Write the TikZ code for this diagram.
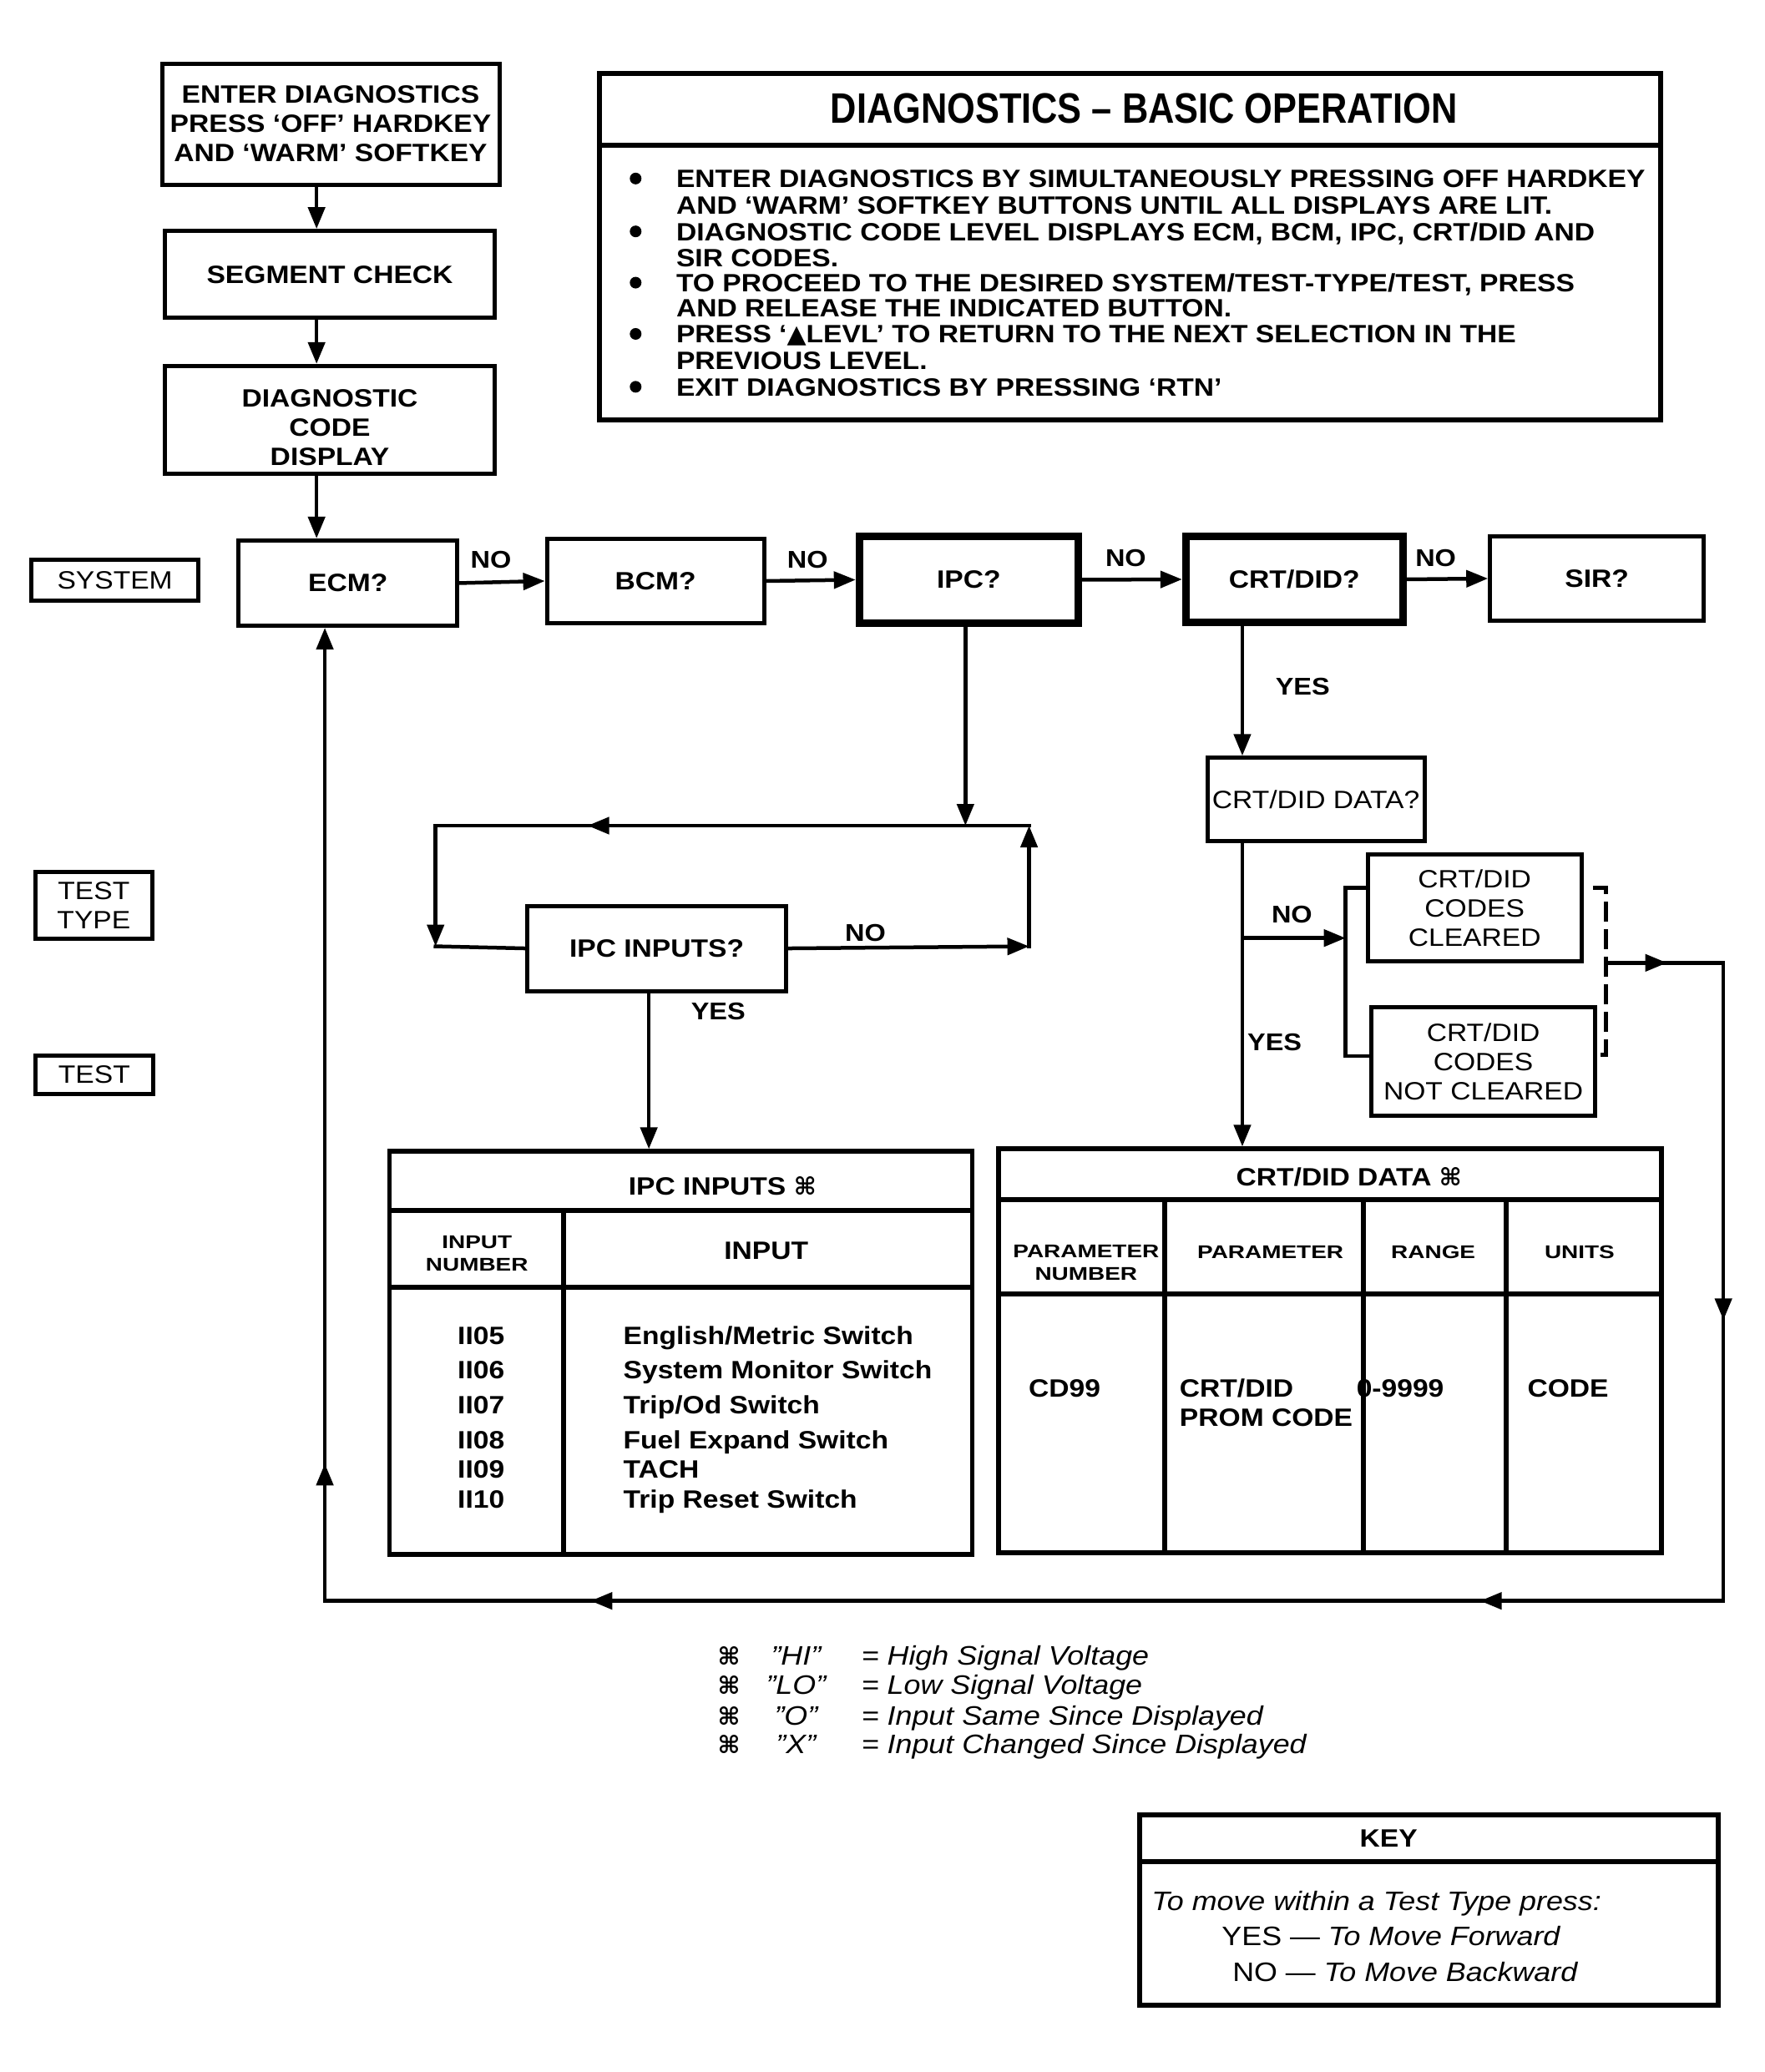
\documentclass[tikz,border=0pt]{standalone}
\usepackage{fontspec}
\setmainfont[FakeStretch=1.12]{Liberation Sans}
\newfontfamily\condfont[FakeStretch=0.85]{Liberation Sans}
\newfontfamily\xwidefont[FakeStretch=1.27]{Liberation Sans}
\newfontfamily\symfont{DejaVu Sans}
\usetikzlibrary{arrows.meta,decorations.markings}
\newcommand{\cmdsym}{{\symfont\bfseries\fontsize{29}{29}\selectfont ⌘}}
\tikzset{
  mytip/.tip={Triangle[length=26pt,width=20pt]},
  ln/.style={line width=4.5pt,line cap=rect},
  arr/.style={ln,-mytip},
  box/.style={draw,line width=5pt,inner sep=0pt,align=center,font=\bfseries\fontsize{30}{35}\selectfont},
  rbox/.style={box,font=\fontsize{30}{35}\selectfont},
  thickbox/.style={box,line width=9pt},
  sidebox/.style={draw,line width=5pt,inner sep=0pt,align=center,font=\fontsize{30}{35}\selectfont},
  yn/.style={font=\bfseries\fontsize{29}{33}\selectfont,inner sep=0pt},
  tab/.style={draw,line width=5.5pt,inner sep=0pt},
  tabline/.style={line width=6pt},
  hdtxt/.style={font=\bfseries\fontsize{30}{31.5}\selectfont,anchor=base west,inner sep=0pt},
  cell/.style={font=\bfseries\fontsize{30}{35}\selectfont,inner sep=0pt},
  smallhd/.style={font=\xwidefont\bfseries\fontsize{22}{27}\selectfont,align=center,inner sep=0pt},
  itl/.style={font=\itshape\fontsize{32}{36}\selectfont,inner sep=0pt},
  legsym/.style={inner sep=0pt},
  midarr/.style={postaction={decorate},decoration={markings,mark=at position #1 with {\arrow{mytip}}}},
  midarrtwo/.style 2 args={postaction={decorate},decoration={markings,mark=at position #1 with {\arrow{mytip}},mark=at position #2 with {\arrow{mytip}}}},
}
\begin{document}
\begin{tikzpicture}[x=0.99pt,y=-0.99pt]
\fill[white] (0,0) rectangle (2135.35,2507.07);
\useasboundingbox (0,0) rectangle (2135.35,2507.07);

% ---------- flow boxes ----------
\node[box,minimum width=404pt,minimum height=145pt] (enter) at (400,150) {ENTER DIAGNOSTICS\\PRESS ‘OFF’ HARDKEY\\AND ‘WARM’ SOFTKEY};
\node[box,minimum width=395pt,minimum height=104pt] (seg) at (399,332) {SEGMENT CHECK};
\node[box,minimum width=395pt,minimum height=129pt] (dcd) at (399,508) {};
\node[cell,align=center] (dcdtxt) at (399,517) {DIAGNOSTIC\\CODE\\DISPLAY};

\node[box,minimum width=262pt,minimum height=102pt] (ecm) at (421,705.5) {ECM?};
\node[box,minimum width=260pt,minimum height=101pt] (bcm) at (793,703) {BCM?};
\node[thickbox,minimum width=262pt,minimum height=104pt] (ipc) at (1172,701.5) {IPC?};
\node[thickbox,minimum width=260pt,minimum height=103pt] (crt) at (1566,701) {CRT/DID?};
\node[box,minimum width=256pt,minimum height=101pt] (sir) at (1932,700) {SIR?};

\node[rbox,minimum width=260pt,minimum height=100pt] (crtq) at (1592,967.5) {CRT/DID DATA?};
\node[box,minimum width=310pt,minimum height=102pt] (ipcin) at (794.5,1147.5) {IPC INPUTS?};
\node[rbox,minimum width=256pt,minimum height=128pt] (clr) at (1784,1098.5) {CRT/DID\\CODES\\CLEARED};
\node[rbox,minimum width=268pt,minimum height=130pt] (nclr) at (1794.5,1284.5) {CRT/DID\\CODES\\NOT CLEARED};

% ---------- side labels ----------
\node[sidebox,minimum width=200pt,minimum height=49pt] (sys) at (139,702.5) {SYSTEM};
\node[sidebox,minimum width=140pt,minimum height=80pt] (ttype) at (113.5,1095.5) {TEST\\TYPE};
\node[sidebox,minimum width=141pt,minimum height=46pt] (tst) at (114,1300) {TEST};

% ---------- header ----------
\node[draw,line width=6pt,minimum width=1271pt,minimum height=415pt,inner sep=0pt] (hdr) at (1367,298.5) {};
\draw[tabline] (725,176) -- (2009,176);
\node[font=\condfont\bfseries\fontsize{51}{60}\selectfont,inner sep=0pt] (title) at (1384,131) {DIAGNOSTICS – BASIC OPERATION};
\foreach \y in {216,280,342,404,468} {\fill (769,\y) circle (7pt);}
\node[hdtxt] (h1) at (818,227) {ENTER DIAGNOSTICS BY SIMULTANEOUSLY PRESSING OFF HARDKEY};
\node[hdtxt] (h2) at (818,259) {AND ‘WARM’ SOFTKEY BUTTONS UNTIL ALL DISPLAYS ARE LIT.};
\node[hdtxt] (h3) at (818,291) {DIAGNOSTIC CODE LEVEL DISPLAYS ECM, BCM, IPC, CRT/DID AND};
\node[hdtxt] (h4) at (818,323) {SIR CODES.};
\node[hdtxt] (h5) at (818,353) {TO PROCEED TO THE DESIRED SYSTEM/TEST-TYPE/TEST, PRESS};
\node[hdtxt] (h6) at (818,383) {AND RELEASE THE INDICATED BUTTON.};
\node[hdtxt] (h7) at (818,415) {PRESS ‘{\symfont ▲}LEVL’ TO RETURN TO THE NEXT SELECTION IN THE};
\node[hdtxt] (h8) at (818,447) {PREVIOUS LEVEL.};
\node[hdtxt] (h9) at (818,479) {EXIT DIAGNOSTICS BY PRESSING ‘RTN’};

% ---------- IPC inputs table ----------
\node[tab,minimum width=698pt,minimum height=483pt] (ipctab) at (823.5,1637) {};
\draw[tabline] (471,1465) -- (1176,1465);
\draw[tabline] (471,1558) -- (1176,1558);
\draw[tabline] (682,1465) -- (682,1881);
\node[cell] (ipctitle) at (874,1435) {IPC INPUTS \cmdsym};
\node[smallhd] (inum) at (577,1517) {INPUT\\NUMBER};
\node[cell] (iinp) at (927,1513) {INPUT};
\node[cell,anchor=base] (n1) at (582,1627) {II05};
\node[cell,anchor=base] (n2) at (582,1668) {II06};
\node[cell,anchor=base] (n3) at (582,1711) {II07};
\node[cell,anchor=base] (n4) at (582,1753) {II08};
\node[cell,anchor=base] (n5) at (582,1788) {II09};
\node[cell,anchor=base] (n6) at (582,1825) {II10};
\node[cell,anchor=base west] (t1) at (754,1627) {English/Metric Switch};
\node[cell,anchor=base west] (t2) at (754,1668) {System Monitor Switch};
\node[cell,anchor=base west] (t3) at (754,1711) {Trip/Od Switch};
\node[cell,anchor=base west] (t4) at (754,1753) {Fuel Expand Switch};
\node[cell,anchor=base west] (t5) at (754,1788) {TACH};
\node[cell,anchor=base west] (t6) at (754,1825) {Trip Reset Switch};

% ---------- CRT/DID data table ----------
\node[tab,minimum width=794pt,minimum height=484pt] (crttab) at (1609,1634.5) {};
\node[cell] (crttitle) at (1632,1424) {CRT/DID DATA \cmdsym};
\node[smallhd] (pnum) at (1314,1528) {PARAMETER\\NUMBER};
\node[smallhd] (ppar) at (1537,1515) {PARAMETER};
\node[smallhd] (prng) at (1734,1515) {RANGE};
\node[smallhd] (punt) at (1911,1515) {UNITS};
\node[cell] (cd99) at (1288,1680) {CD99};
\node[cell,align=left,anchor=west] (prom) at (1427,1697) {CRT/DID\\PROM CODE};
\node[cell,anchor=west] (rng) at (1641,1680) {0-9999};
\node[cell] (code) at (1897,1680) {CODE};
\draw[tabline] (1208,1451) -- (2010,1451);
\draw[tabline] (1208,1566) -- (2010,1566);
\draw[tabline] (1409,1451) -- (1409,1879);
\draw[tabline] (1649,1451) -- (1649,1879);
\draw[tabline] (1822,1451) -- (1822,1879);

% ---------- legend ----------
\foreach \y/\q/\t in {2004/"HI"/High Signal Voltage,2039/"LO"/Low Signal Voltage,2076/"O"/Input Same Since Displayed,2111/"X"/Input Changed Since Displayed}{
  \node[legsym] at (882,\y) {\cmdsym};
  \node[itl] at (963,\y) {\q};
  \node[itl,anchor=base west] at (1042,\y+11) {= \t};
}

% ---------- key ----------
\node[draw,line width=6pt,minimum width=693pt,minimum height=228pt,inner sep=0pt] (key) at (1729,2311) {};
\draw[tabline] (1379,2253) -- (2079,2253);
\node[cell] (keyt) at (1680,2224) {KEY};
\node[itl,anchor=base west] (k1) at (1393,2312) {To move within a Test Type press:};
\node[font=\fontsize{32}{36}\selectfont,anchor=base west,inner sep=0pt] (k2) at (1478,2354) {YES --- {\itshape To Move Forward}};
\node[font=\fontsize{32}{36}\selectfont,anchor=base west,inner sep=0pt] (k3) at (1491,2397) {NO --- {\itshape To Move Backward}};

% ---------- connectors ----------
\coordinate (vx) at (383,0);
\draw[arr] (enter.south -| vx) -- (seg.north -| vx);
\draw[arr] (seg.south -| vx) -- (dcd.north -| vx);
\draw[arr] (dcd.south -| vx) -- (ecm.north -| vx);
\draw[arr] (ecm.east) -- (bcm.west);
\draw[arr] (bcm.east) -- (ipc.west);
\draw[arr] (ipc.east) -- (crt.west);
\draw[arr] (crt.east) -- (sir.west);
\node[yn] (no1) at (594,677) {NO};
\node[yn] (no2) at (977,677) {NO};
\node[yn] (no3) at (1362,675) {NO};
\node[yn] (no4) at (1737,675) {NO};

% IPC loop
\coordinate (LT) at (527,999);
\coordinate (RT) at (1245,999);
\coordinate (LB) at (527,1145);
\coordinate (RB) at (1245,1145);
\coordinate (ipcx) at (1168,0);
\draw[arr] (ipc.south -| ipcx) -- (ipcx |- LT);
\draw[ln,midarr=0.744] (RT) -- (LT);
\draw[arr] (LT) -- (LB);
\draw[ln] (LB) -- (ipcin.west);
\draw[arr] (ipcin.east) -- (RB);
\draw[arr] (RB) -- (RT);
\node[yn] (no5) at (1047,1129) {NO};
\coordinate (ipcy) at (785,0);
\draw[arr] (ipcin.south -| ipcy) -- (ipctab.north -| ipcy);
\node[yn] (yes2) at (869,1224) {YES};

% CRT branch
\coordinate (cx) at (1503,0);
\draw[arr] (crt.south -| cx) -- (crtq.north -| cx);
\node[yn] (yes1) at (1576,831) {YES};
\draw[arr] (crtq.south -| cx) -- (crttab.north -| cx);
\coordinate (br) at (1503,1135);
\coordinate (bk) at (1628,1135);
\draw[arr] (br) -- (bk);
\node[yn] (no6) at (1563,1107) {NO};
\node[yn] (yes3) at (1542,1261) {YES};
\coordinate (bt) at (1628,1074);
\coordinate (bb) at (1628,1278);
\draw[ln] (clr.west |- bt) -- (bt) -- (bb) -- (nclr.west |- bb);
\coordinate (dts) at (1927,1074);
\coordinate (dt) at (1943,1074);
\coordinate (db) at (1943,1276);
\draw[ln,line cap=butt,dash pattern=on 24pt off 9pt] (dts) -- (dt) -- (db) -- (nclr.east |- db);

% return path
\coordinate (dm) at (1943,1165);
\coordinate (r1) at (2085,1165);
\coordinate (r2) at (2085,1937);
\coordinate (l1) at (393,1937);
\draw[ln,midarr=0.52] (dm) -- (r1);
\draw[ln,midarr=0.56] (r1) -- (r2);
\draw[ln,midarrtwo={0.174}{0.81}] (r2) -- (l1);
\draw[arr,midarr=0.141] (l1) -- (ecm.south -| l1);
\end{tikzpicture}
\end{document}
